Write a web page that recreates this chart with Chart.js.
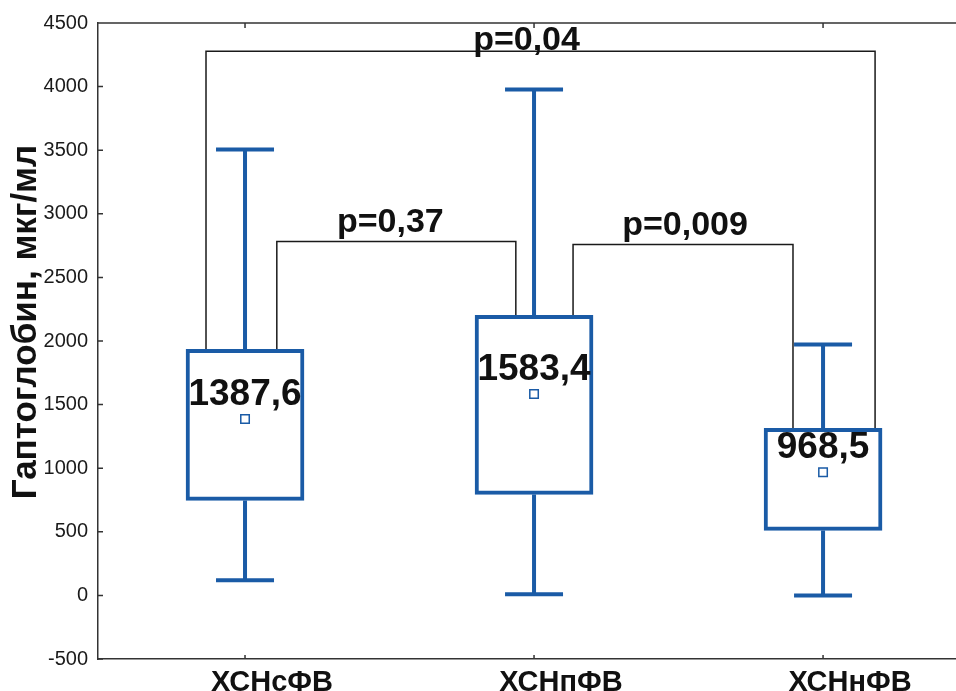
<!DOCTYPE html>
<html>
<head>
<meta charset="utf-8">
<script src="https://cdn.jsdelivr.net/npm/chart.js@4.4.1/dist/chart.umd.min.js"></script>
<style>
html,body{margin:0;padding:0;background:#fff}
</style>
</head>
<body>
<canvas id="c" width="956" height="691"></canvas>
<script>
/* Data */
const groups = ['ХСНсФВ','ХСНпФВ','ХСНнФВ'];
const whiskLow = [120, 10, 0];
const q1 = [747, 794, 511];
const q3 = [1934, 2201, 1313];
const whiskHigh = [3506, 3978, 1973];
const means = [1387.6, 1583.4, 968.5];
const meanLabels = ['1387,6','1583,4','968,5'];

/* p-value brackets: level, span in category units, groups they hang on */
const pLabels = ['p=0,04','p=0,37','p=0,009'];
const pLevel = [4277, 2783, 2759];
const pFrom = [-0.135, 0.11, 1.135];
const pTo = [2.18, 0.937, 1.896];
const pLeftGroup = [0, 0, 1];
const pRightGroup = [2, 1, 2];

/* Style */
const BLUE = '#1a5ba6';
const INK = '#111';
const FRAME = '#333';
const FONT = '"Liberation Sans", Arial, sans-serif';
const CAP = 58;
const pGap = [1, 9, 9];
const pShift = [-14, -6, 2];

const boxPlot = {
  id:'boxPlot',
  beforeDatasetsDraw(chart){
    const {ctx, scales:{x,y}} = chart;
    ctx.save();
    // whiskers
    ctx.strokeStyle = BLUE; ctx.lineWidth = 4;
    groups.forEach((g,i)=>{
      const px = x.getPixelForValue(i);
      [[q3[i],whiskHigh[i]],[q1[i],whiskLow[i]]].forEach(([a,b])=>{
        const ya = y.getPixelForValue(a), yb = y.getPixelForValue(b);
        ctx.beginPath();
        ctx.moveTo(px,ya); ctx.lineTo(px,yb);
        ctx.moveTo(px-CAP/2,yb); ctx.lineTo(px+CAP/2,yb);
        ctx.stroke();
      });
    });
    // brackets
    ctx.strokeStyle = '#1a1a1a'; ctx.lineWidth = 1.5;
    pLabels.forEach((t,i)=>{
      const x1 = x.getPixelForValue(pFrom[i]), x2 = x.getPixelForValue(pTo[i]);
      const yl = y.getPixelForValue(pLevel[i]);
      ctx.beginPath();
      ctx.moveTo(x1, y.getPixelForValue(q3[pLeftGroup[i]]));
      ctx.lineTo(x1, yl); ctx.lineTo(x2, yl);
      ctx.lineTo(x2, y.getPixelForValue(q3[pRightGroup[i]]));
      ctx.stroke();
    });
    ctx.restore();
  },
  afterDatasetsDraw(chart){
    const {ctx, scales:{x,y}} = chart;
    ctx.save();
    ctx.fillStyle = INK; ctx.textAlign = 'center'; ctx.textBaseline = 'alphabetic';
    ctx.font = 'bold 37px ' + FONT;
    means.forEach((m,i)=>{
      ctx.fillText(meanLabels[i], x.getPixelForValue(i), y.getPixelForValue(m) - 14);
    });
    ctx.font = 'bold 34px ' + FONT;
    pLabels.forEach((t,i)=>{
      const xm = (x.getPixelForValue(pFrom[i]) + x.getPixelForValue(pTo[i])) / 2 + pShift[i];
      ctx.fillText(t, xm, y.getPixelForValue(pLevel[i]) - pGap[i]);
    });
    ctx.restore();
  },
  afterDraw(chart){
    const {ctx, chartArea:a, scales:{x,y}} = chart;
    ctx.save();
    ctx.strokeStyle = FRAME; ctx.lineWidth = 1.5;
    ctx.beginPath();
    ctx.moveTo(a.left, a.top); ctx.lineTo(a.right, a.top);
    y.ticks.forEach(t=>{
      const py = y.getPixelForValue(t.value);
      ctx.moveTo(a.left, py); ctx.lineTo(a.left + 5, py);
    });
    x.ticks.forEach(t=>{
      const px = x.getPixelForValue(t.value);
      ctx.moveTo(px, a.bottom); ctx.lineTo(px, a.bottom - 4);
      ctx.moveTo(px, a.top); ctx.lineTo(px, a.top + 5);
    });
    ctx.stroke();
    // y axis title
    ctx.translate(26, 322);
    ctx.rotate(-Math.PI/2);
    ctx.fillStyle = INK; ctx.textAlign = 'center'; ctx.textBaseline = 'middle';
    ctx.font = 'bold 35px ' + FONT;
    ctx.fillText('Гаптоглобин, мкг/мл', 0, 0);
    ctx.restore();
  }
};

new Chart(document.getElementById('c'), {
  data:{
    datasets:[
      {type:'bar', order:2,
       data: groups.map((g,i)=>({x:i, y:[q1[i], q3[i]]})),
       backgroundColor:'#fff', borderColor:BLUE, borderWidth:4,
       borderSkipped:false, barThickness:118},
      {type:'scatter', order:1,
       data: means.map((m,i)=>({x:i, y:m})),
       pointStyle:'rect', pointRadius:6, borderWidth:1.5,
       borderColor:BLUE, backgroundColor:'#fff'}
    ]
  },
  options:{
    responsive:false, animation:false, events:[],
    layout:{autoPadding:false, padding:{top:23, right:0, left:0, bottom:0}},
    plugins:{legend:{display:false}, tooltip:{enabled:false}},
    scales:{
      x:{type:'linear', min:-0.5087, max:2.46, offset:false,
         afterBuildTicks(s){ s.ticks = groups.map((g,i)=>({value:i})); },
         afterFit(s){ s.height = 32; },
         grid:{display:false, drawTicks:false},
         border:{display:true, color:FRAME, width:1.5},
         ticks:{callback:v=>groups[v], labelOffset:27, padding:7, maxRotation:0, autoSkip:false,
                color:INK, font:{family:FONT, size:29, weight:'bold'}}},
      y:{min:-500, max:4500,
         afterFit(s){ s.width = 98; },
         grid:{display:false, drawTicks:false},
         border:{display:true, color:FRAME, width:1.5},
         ticks:{stepSize:500, padding:10, color:'#1a1a1a', callback:v=>String(v),
                font:{family:FONT, size:20}}}
    }
  },
  plugins:[boxPlot]
});
</script>
</body>
</html>
